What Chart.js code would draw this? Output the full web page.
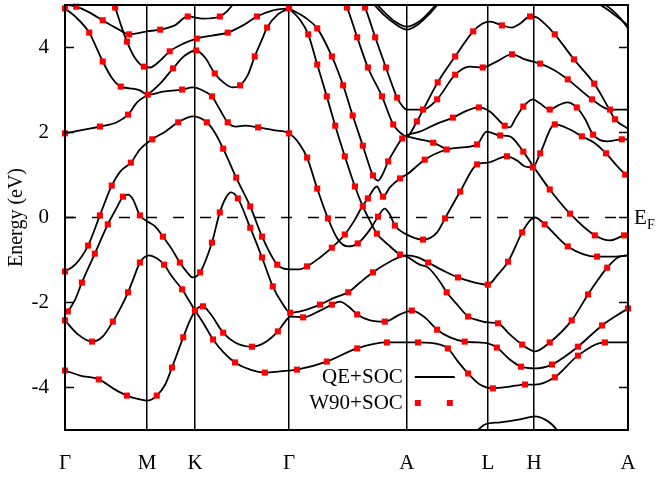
<!DOCTYPE html>
<html>
<head>
<meta charset="utf-8">
<script src="https://cdn.jsdelivr.net/npm/chart.js@4.4.1/dist/chart.umd.min.js"></script>
<style>
  html, body { margin: 0; padding: 0; background: #fff; }
  #wrap { width: 657px; height: 477px; }
</style>
</head>
<body>
<div id="wrap"><canvas id="bands" width="657" height="477"></canvas></div>
<script>
// --- k-path (arbitrary path units) and energy axis ---
const kTicks = [0, 14.6, 23.1, 39.8, 60.7, 75.1, 83.3, 100];
const kLabels = ['Γ', 'M', 'K', 'Γ', 'A', 'L', 'H', 'A'];
const eTicks = [-4, -2, 0, 2, 4];
const fermiLine = [[0, 0], [100, 0]];

// --- QE+SOC bands, [k, E (eV)]; a third entry 1 marks a W90+SOC sample ---
const band01 = [[0,5.01],[2.0,4.96,1],[4.4,4.82],[6.7,4.64,1],[9.2,4.45],[11.4,4.31,1],[14.6,4.38],[16.9,4.42,1],[19.5,4.52],[21.8,4.73,1],[24.5,4.68],[27.5,4.73,1],[28.9,4.87],[30.0,5.04]];
const band02 = [[8.5,5.04],[8.9,4.94,1],[9.9,4.54],[11.0,4.14,1],[12.4,3.76],[14.0,3.55,1],[15.1,3.53],[16.9,3.69],[18.6,3.91,1],[21.0,4.09],[23.4,4.21,1],[26.1,4.28],[28.9,4.35,1],[31.6,4.52],[34.1,4.73,1],[36.8,4.87],[39.8,4.92,1]];
const band03 = [[0,4.92,1],[1.8,4.73],[4.3,4.35,1],[5.5,4.02],[6.7,3.67,1],[8.3,3.29],[9.9,3.08,1],[11.5,3.04],[13.3,2.99],[14.7,2.89,1],[17.4,2.96],[20.8,3.01,1],[22.7,3.06],[24.9,2.96],[26.1,2.85,1],[27.5,2.54],[28.9,2.24,1],[30.4,2.14],[32.0,2.16],[34.3,2.12,1],[37.3,2.05],[39.8,1.98,1],[41.7,1.72],[43.0,1.41,1],[44.8,0.68,1],[46.7,-0.02,1],[48.5,-0.52],[50.3,-0.68],[52.0,-0.61,1],[54.2,-0.28],[55.6,0.02,1],[56.8,0.21],[57.7,0.07],[58.6,-0.19,1],[60.4,-0.38],[63.6,-0.52,1],[66.1,-0.35],[67.5,-0.02,1],[70.2,0.61,1],[73.2,1.25,1],[75.1,1.29],[78.5,1.44,1],[80.3,1.34],[81.7,1.20],[83.1,1.18,1],[84.4,1.51,1],[87.0,2.19,1],[89.7,2.07],[91.8,1.91,1],[94.0,1.76],[96.1,1.51,1],[98.0,1.22],[99.5,1.01,1],[100,0.94]];
const band04 = [[0,1.98,1],[2.7,2.05],[6.2,2.14,1],[9.2,2.24],[11.2,2.42,1],[12.8,2.71],[14.7,2.89],[16.9,3.15],[19.2,3.51,1],[21.3,3.81],[23.3,3.93,1],[24.9,3.76],[26.6,3.39,1],[28.4,3.15],[29.8,3.06],[31.1,3.11,1],[32.5,3.36],[33.7,3.79,1],[35.0,4.19],[35.9,4.47,1],[37.8,4.78],[39.8,4.92]];
const band05 = [[39.8,4.92],[41.7,4.66],[43.2,4.31,1],[44.8,3.60,1],[46.5,2.85,1],[48.0,2.16,1],[49.7,1.44,1],[51.5,0.73,1],[52.9,0.26,1],[54.2,-0.09],[55.4,-0.38,1],[57.4,-0.64],[59.5,-0.87,1],[60.7,-0.92],[63.0,-1.11],[64.5,-1.18],[66.6,-1.51],[67.8,-1.76,1],[69.8,-2.07],[71.6,-2.33,1],[73.4,-2.42],[75.1,-2.47],[76.9,-2.49,1],[79.0,-2.75],[81.2,-2.99,1],[83.5,-3.15],[86.1,-2.94,1],[90.0,-2.42,1],[92.9,-1.81,1],[94.7,-1.46],[96.3,-1.18,1],[98.2,-0.94],[100,-0.89]];
const band06 = [[39.8,4.92],[42.6,4.71],[44.8,4.45,1],[47.4,3.79,1],[49.4,3.11,1],[51.1,2.40,1],[52.9,1.69,1],[54.7,0.99,1],[55.6,0.87],[56.5,1.04],[57.4,1.32,1],[58.6,1.60],[59.9,1.86,1],[60.7,1.93],[63.0,2.02],[66.1,2.21],[68.9,2.35,1],[71.0,2.49],[73.5,2.59,1],[75.5,2.49],[78.1,2.16,1],[79.0,2.12],[80.1,2.35],[81.4,2.61,1],[83.1,2.78],[84.4,2.68],[86.1,2.54,1],[87.6,2.64],[89.2,2.71],[90.9,2.59,1],[92.4,2.31],[93.8,1.95,1],[96.3,1.79],[98.9,1.84,1],[100,1.84]];
const band07 = [[49.7,5.04],[50.1,4.94,1],[51.9,4.24,1],[53.8,3.53,1],[56.3,2.85,1],[58.3,2.19,1],[59.5,2.00],[60.7,1.91],[62.5,2.26,1],[64.3,2.71],[66.2,3.18,1],[69.3,3.79,1],[72.5,4.38,1],[74.1,4.56],[75.5,4.61],[77.6,4.52,1],[79.4,4.47],[80.8,4.56],[82.6,4.73,1],[83.8,4.71],[85.2,4.56],[87.0,4.31,1],[90.4,3.72,1],[94.0,3.15,1],[95.7,2.78],[97.7,2.31,1],[100,2.09]];
const band08 = [[52.9,5.04],[53.3,4.94,1],[55.1,4.24,1],[57.0,3.53,1],[59.0,2.82,1],[60.0,2.61],[60.7,2.54],[62.2,2.54],[63.6,2.54,1],[66.1,2.78,1],[69.3,3.36,1],[71.9,3.55],[74.2,3.53,1],[76.4,3.65],[79.4,3.84,1],[81.7,3.72],[84.4,3.62,1],[87.0,3.46],[89.3,3.25,1],[93.6,2.78,1],[96.8,2.54,1],[100,2.54]];
const band09 = [[0,-1.27,1],[1.8,-1.11],[4.1,-0.66,1],[6.2,0.05,1],[8.3,0.75,1],[9.8,1.08],[11.7,1.29,1],[13.3,1.60],[15.5,1.84,1],[17.8,2.02],[20.1,2.24,1],[22.7,2.38],[25.2,2.24,1],[26.6,2.00],[28.1,1.62,1],[30.4,0.94,1],[32.9,0.26,1],[35.0,-0.45,1],[37.7,-1.11,1],[39.8,-1.22],[41.7,-1.22],[43.0,-1.15,1],[45.3,-0.94],[47.4,-0.71,1],[49.7,-0.40,1],[51.5,-0.05],[52.7,0.24],[53.8,0.45,1],[55.4,0.73],[56.5,0.49,1],[57.7,0.71],[59.5,0.92,1],[60.7,1.01],[63.9,1.36,1],[67.8,1.60,1],[70.5,1.65],[73.2,1.72,1],[74.9,2.02],[77.3,1.93,1],[79.0,1.91],[81.4,1.55,1],[83.1,1.22],[86.1,0.66,1],[89.7,0.09,1],[94.1,-0.42,1],[96.8,-0.54],[99.3,-0.42,1],[100,-0.40]];
const band10 = [[60.7,1.91],[63.0,1.84],[65.4,1.76,1],[67.8,1.60]];
const band11 = [[0,-2.28],[0.5,-2.21,1],[1.8,-1.93],[3.0,-1.53,1],[5.3,-0.85,1],[7.6,-0.16,1],[9.1,0.21],[10.3,0.49,1],[11.2,0.54],[12.1,0.42],[13.3,0.05,1],[14.6,-0.09],[16.0,-0.21],[17.4,-0.45,1],[19.0,-0.75],[20.4,-1.06,1],[21.7,-1.29],[22.7,-1.41],[24.0,-1.29,1],[26.1,-0.59,1],[27.5,0.12,1],[28.6,0.47],[29.5,0.59],[30.7,0.45,1],[32.9,-0.24,1],[35.0,-0.94,1],[36.9,-1.62,1],[38.5,-2.00],[40.0,-2.24,1],[42.3,-2.19],[45.3,-2.05,1],[48.0,-1.88],[50.3,-1.76,1],[52.4,-1.53],[54.7,-1.29,1],[57.7,-1.04],[60.7,-0.89],[62.7,-0.94],[64.5,-1.06,1],[67.5,-1.27],[69.8,-1.41,1],[72.8,-1.53],[75.1,-1.58,1],[76.9,-1.34],[78.7,-1.04,1],[81.2,-0.35,1],[82.6,-0.07],[83.5,0],[85.2,-0.16,1],[89.3,-0.68,1],[94.5,-0.92,1],[97.7,-0.92],[100,-0.89]];
const band12 = [[0,-3.60,1],[2.7,-3.72],[6.0,-3.81,1],[8.9,-4.05],[11.0,-4.19,1],[13.3,-4.28],[14.6,-4.31],[16.3,-4.19,1],[17.8,-3.93],[19.0,-3.53,1],[21.0,-2.82,1],[22.2,-2.42],[23.3,-2.16],[24.5,-2.09,1],[25.8,-2.26],[28.1,-2.71,1],[30.2,-2.94],[33.2,-3.04,1],[35.5,-2.94],[37.8,-2.68,1],[39.1,-2.45],[40.0,-2.33],[42.3,-2.35,1],[45.3,-2.19],[47.4,-2.05,1],[48.8,-1.98],[50.3,-2.09],[51.9,-2.28,1],[54.2,-2.42],[56.8,-2.45,1],[59.5,-2.28],[61.6,-2.19,1],[63.9,-2.35],[66.1,-2.64,1],[68.4,-2.82],[71.0,-2.92,1],[73.4,-2.94],[75.1,-2.96],[76.7,-3.06,1],[79.0,-3.34],[81.0,-3.51,1],[83.5,-3.55],[86.5,-3.46,1],[88.8,-3.27],[91.1,-3.04,1],[95.4,-2.54,1],[97.7,-2.33],[100,-2.14,1]];
const band13 = [[0,-2.42,1],[2.3,-2.75],[4.8,-2.92,1],[6.7,-2.80],[8.5,-2.45,1],[9.9,-2.12],[11.2,-1.76,1],[12.3,-1.39],[13.3,-1.06,1],[14.9,-0.89],[16.3,-0.96],[17.6,-1.11,1],[19.0,-1.39],[20.8,-1.69,1],[22.0,-1.95],[23.1,-2.19,1],[24.5,-2.47],[26.3,-2.87,1],[28.2,-3.18],[30.2,-3.41,1],[32.9,-3.58],[35.5,-3.65,1],[38.2,-3.62],[41.2,-3.58,1],[46.5,-3.39,1],[51.9,-3.08,1],[57.2,-2.94,1],[62.7,-2.94,1],[66.6,-2.99],[68.0,-3.08,1],[69.8,-3.39],[71.6,-3.67,1],[73.7,-3.93],[76.0,-4.02,1],[79.0,-3.98],[81.7,-3.93,1],[83.5,-3.93],[87.0,-3.76,1],[91.1,-3.25,1],[95.9,-2.94,1],[100,-2.94]];
// bands only partly in the window, no W90 samples
const topU1 = [[55.2,5.04],[56.8,4.82],[58.6,4.61],[60.7,4.49],[62.9,4.61],[64.6,4.82],[66.1,5.04]];
const topU2 = [[54.7,5.04],[56.8,4.75],[58.8,4.54],[60.7,4.42],[62.7,4.54],[64.8,4.80],[66.4,5.04]];
const topR1 = [[94.7,5.04],[96.4,4.89],[98.2,4.71],[100,4.52]];
const topR2 = [[95.6,5.04],[97.1,4.89],[98.7,4.68],[100,4.45]];
const bottomH = [[73.0,-5.04],[74.6,-4.87],[77.3,-4.82],[80.8,-4.75],[83.5,-4.68],[85.2,-4.75],[86.5,-4.87],[87.6,-5.04]];

const qeBands = [band01, band02, band03, band04, band05, band06, band07, band08, band09,
                 band10, band11, band12, band13, topU1, topU2, topR1, topR2, bottomH];

const FONT = '"Liberation Serif", "Times New Roman", serif';
const toXY = p => ({ x: p[0], y: p[1] });

const qeSets = qeBands.map(b => ({
  data: b.map(toXY),
  showLine: true,
  borderColor: '#000',
  borderWidth: 1.8,
  pointRadius: 0,
  cubicInterpolationMode: 'monotone',
  clip: 0,
  order: 2
}));

const w90Set = {
  data: qeBands.flatMap(b => b.filter(p => p[2]).map(toXY)),
  showLine: false,
  pointStyle: 'rect',
  pointRadius: 4.3,
  backgroundColor: '#ff0000',
  borderWidth: 0,
  clip: false,
  order: 0
};

const fermiSet = {
  data: fermiLine.map(toXY),
  showLine: true,
  borderColor: '#000',
  borderWidth: 1.5,
  borderDash: [11, 16],
  pointRadius: 0,
  order: 1
};

// frame, inner y ticks, E_F label and the in-plot key
const decorations = {
  id: 'decorations',
  afterDraw(chart) {
    const { ctx, chartArea: a, scales: { y } } = chart;
    ctx.save();
    ctx.strokeStyle = '#000';
    ctx.lineWidth = 1.5;
    eTicks.forEach(v => {
      const py = y.getPixelForValue(v);
      ctx.beginPath();
      ctx.moveTo(a.left, py); ctx.lineTo(a.left + 9, py);
      ctx.moveTo(a.right, py); ctx.lineTo(a.right - 9, py);
      ctx.stroke();
    });
    ctx.lineWidth = 2;
    ctx.strokeRect(a.left, a.top, a.right - a.left, a.bottom - a.top);

    const y0 = y.getPixelForValue(0);
    ctx.fillStyle = '#000';
    ctx.textBaseline = 'middle';
    ctx.textAlign = 'left';
    ctx.font = '21px ' + FONT;
    ctx.fillText('E', a.right + 6, y0 + 1);
    ctx.font = '14px ' + FONT;
    ctx.fillText('F', a.right + 19, y0 + 8);

    const lx = a.left + (a.right - a.left) * 0.6;
    const r1 = a.bottom - 53, r2 = a.bottom - 27;
    ctx.font = '21px ' + FONT;
    ctx.textAlign = 'right';
    ctx.fillText('QE+SOC', lx, r1);
    ctx.fillText('W90+SOC', lx, r2);
    ctx.lineWidth = 1.8;
    ctx.beginPath();
    ctx.moveTo(lx + 12, r1); ctx.lineTo(lx + 52, r1);
    ctx.stroke();
    ctx.fillStyle = '#ff0000';
    [lx + 15, lx + 47].forEach(px => ctx.fillRect(px - 3, r2 - 3, 6, 6));
    ctx.restore();
  }
};

new Chart(document.getElementById('bands'), {
  type: 'line',
  data: { datasets: [w90Set, fermiSet, ...qeSets] },
  options: {
    responsive: false,
    devicePixelRatio: 1,
    animation: false,
    events: [],
    layout: { padding: { top: 5, right: 29, left: 0, bottom: 0 } },
    plugins: { legend: { display: false }, tooltip: { enabled: false } },
    scales: {
      x: {
        type: 'linear',
        min: 0,
        max: 100,
        afterBuildTicks: s => { s.ticks = kTicks.map(v => ({ value: v })); },
        afterFit: s => { s.height = 47; s.paddingTop = 0; s.paddingBottom = 0; },
        ticks: {
          autoSkip: false,
          maxRotation: 0,
          padding: 21,
          color: '#000',
          font: { family: FONT, size: 21 },
          callback: (v, i) => kLabels[i]
        },
        grid: { color: '#000', lineWidth: 1.5, drawTicks: false },
        border: { display: false }
      },
      y: {
        min: -5,
        max: 5,
        afterBuildTicks: s => { s.ticks = eTicks.map(v => ({ value: v })); },
        afterFit: s => { s.width = 65; s.paddingTop = 0; s.paddingBottom = 0; },
        ticks: {
          padding: 16,
          color: '#000',
          font: { family: FONT, size: 21 }
        },
        grid: { display: false, drawTicks: false },
        border: { display: false },
        title: {
          display: true,
          text: 'Energy (eV)',
          color: '#000',
          font: { family: FONT, size: 20 },
          padding: { top: 5, bottom: 0 }
        }
      }
    }
  },
  plugins: [decorations]
});
</script>
</body>
</html>
